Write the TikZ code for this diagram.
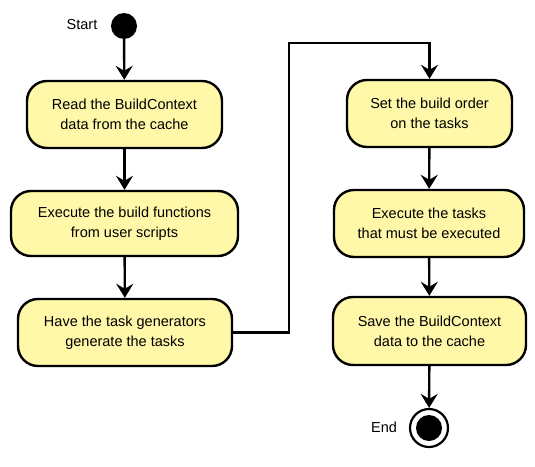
\documentclass[tikz,border=0pt]{standalone}
\usepackage{fontspec}
\setmainfont{Liberation Sans}
\usetikzlibrary{arrows.meta}
\definecolor{boxfill}{RGB}{255,248,168}
\begin{document}
\begin{tikzpicture}[x=1pt,y=-1pt,
  activity/.style={draw=black, line width=2.4pt, fill=boxfill, rounded corners=20pt,
    align=center, inner sep=0pt, font=\fontsize{14.5}{20}\selectfont},
  flow/.style={line width=2.4pt, -{Stealth[length=14pt,width=17pt,inset=5pt]}},
  lbl/.style={font=\fontsize{14.5}{18}\selectfont, inner sep=0pt}]
\useasboundingbox (0,0) rectangle (535,466);
\node[circle, fill=black, minimum size=26pt, inner sep=0pt] (start) at (124,26) {};
\node[lbl] (startlbl) at (82,25) {Start};
\node[activity, minimum width=195pt, minimum height=67pt] (b1) at (124.5,114.5) {Read the BuildContext\\data from the cache};
\node[activity, minimum width=227pt, minimum height=65pt] (b2) at (124.5,223.5) {Execute the build functions\\from user scripts};
\node[activity, minimum width=214pt, minimum height=67pt] (b3) at (125,332.5) {Have the task generators\\generate the tasks};
\node[activity, minimum width=165pt, minimum height=67pt] (b4) at (429.5,113.5) {Set the build order\\on the tasks};
\node[activity, minimum width=190pt, minimum height=67pt] (b5) at (429,223.5) {Execute the tasks\\that must be executed};
\node[activity, minimum width=193pt, minimum height=68pt] (b6) at (429.5,331) {Save the BuildContext\\data to the cache};
\node[circle, draw=black, line width=2.2pt, fill=white, minimum size=38pt, inner sep=0pt] (endo) at (429,428) {};
\node[circle, fill=black, minimum size=26pt, inner sep=0pt] (endi) at (endo.center) {};
\node[lbl] (endlbl) at (384,427) {End};
\coordinate (m) at (289,43);
\draw[flow] (start) -- (b1);
\draw[flow] (b1) -- (b2);
\draw[flow] (b2) -- (b3);
\draw[flow] (b3.east) -| (m) -| (b4.north);
\draw[flow] (b4) -- (b5);
\draw[flow] (b5) -- (b6);
\draw[flow] (b6) -- (endo);
\end{tikzpicture}
\end{document}
